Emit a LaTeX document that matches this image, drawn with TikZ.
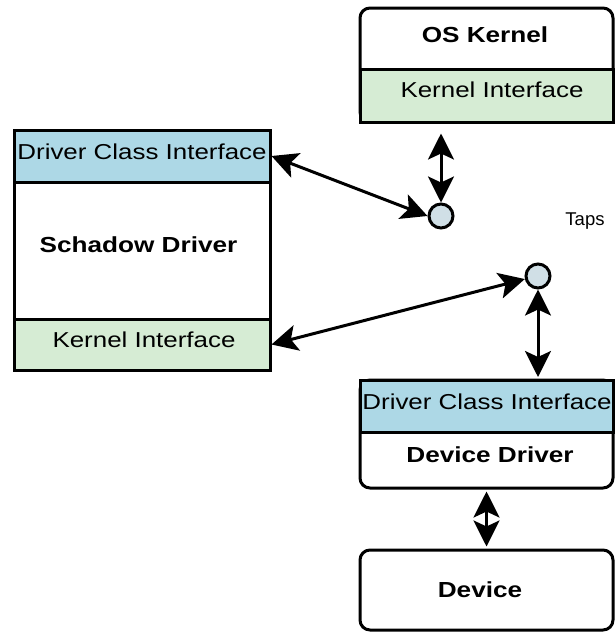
\documentclass[tikz,border=0pt]{standalone}
\usepackage{fontspec}
\setmainfont{Liberation Sans}[FakeStretch=1.2]
\newfontfamily\tapsfont{Liberation Sans}
\usetikzlibrary{arrows.meta}
\definecolor{ciblue}{RGB}{173,216,230}
\definecolor{kgreen}{RGB}{214,236,212}
\definecolor{tapfill}{RGB}{208,223,230}
\begin{document}
\begin{tikzpicture}[x=1pt,y=-1pt,
  box/.style={draw=black, line width=3pt, fill=white, inner sep=0pt, minimum width=253pt},
  sect/.style={draw=black, line width=3pt, inner sep=0pt},
  lbl/.style={anchor=base, inner sep=0pt, font=\fontsize{21.6pt}{26pt}\selectfont},
  blbl/.style={lbl, font=\fontsize{21.8pt}{26pt}\selectfont\bfseries},
  tap/.style={circle, draw=black, line width=3pt, fill=tapfill, minimum size=24pt, inner sep=0pt},
  tip/.tip={Stealth[length=26pt,width=26pt,inset=6pt]},
  dbl/.style={line width=3pt, tip-tip}
]
\useasboundingbox (0,0) rectangle (614,632);
% OS Kernel
\node[box, rounded corners=10pt, minimum height=114pt] (os) at (486.5,65) {};
\node[sect, fill=kgreen, minimum width=253pt, minimum height=53pt] (oski) at (486.5,95.5) {};
\node[blbl] (oslbl) at (485,42) {OS Kernel};
\node[lbl] (oskilbl) at (492,97) {Kernel Interface};
% Schadow Driver
\node[sect, fill=white, minimum width=256pt, minimum height=240pt] (sd) at (142,250) {};
\node[sect, fill=ciblue, minimum width=256pt, minimum height=52pt] (sdci) at (142,156) {};
\node[sect, fill=kgreen, minimum width=256pt, minimum height=51pt] (ski) at (142,344.5) {};
\node[lbl] (sdcilbl) at (142,159) {Driver Class Interface};
\node[blbl] (sdlbl) at (138.5,252) {Schadow Driver};
\node[lbl] (skilbl) at (144,347) {Kernel Interface};
% Device Driver
\node[box, rounded corners=10pt, minimum height=108pt] (dd) at (486.5,434) {};
\node[sect, fill=ciblue, minimum width=253pt, minimum height=52pt] (ddci) at (486.5,406) {};
\node[lbl] (ddcilbl) at (487,409) {Driver Class Interface};
\node[blbl] (ddlbl) at (490,462) {Device Driver};
% Device
\node[box, rounded corners=10pt, minimum height=80pt] (dev) at (486.5,590) {};
\node[blbl] (devlbl) at (480,597) {Device};
% Taps
\node[tap] (tap1) at (441,216) {};
\node[tap] (tap2) at (538,276) {};
\node[anchor=base, inner sep=0pt, font=\tapsfont\fontsize{18.5pt}{22pt}\selectfont] (taps) at (585,225.5) {Taps};
% Connectors
\draw[dbl, shorten >=10pt] (tap1.north) -- (tap1.north |- os.south);
\draw[dbl] (tap1.west) -- (sdci.east);
\draw[dbl] (tap2.193) -- (ski.east);
\draw[dbl, shorten >=1.5pt] (tap2.south) -- (tap2.south |- dd.north);
\draw[dbl, shorten <=2pt, shorten >=2pt] (dd.south) -- (dev.north);
\end{tikzpicture}
\end{document}
